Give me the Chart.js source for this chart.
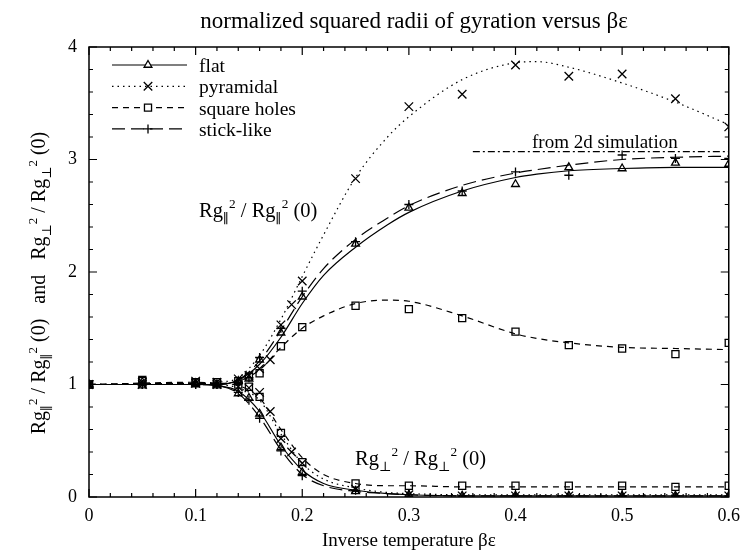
<!DOCTYPE html>
<html>
<head>
<meta charset="utf-8">
<script src="https://cdn.jsdelivr.net/npm/chart.js@4.4.1/dist/chart.umd.min.js"></script>
<style>
  html, body { margin: 0; padding: 0; background: #fff; }
  #wrap { width: 748px; height: 552px; }
</style>
</head>
<body>
<div id="wrap"><canvas id="canvas" width="748" height="552"></canvas></div>
<script>
const SERIF = '"Liberation Serif", "Times New Roman", "DejaVu Serif", serif'

// tick labels
const xTicks = [0, 0.1, 0.2, 0.3, 0.4, 0.5, 0.6]
const yTicks = [0, 1, 2, 3, 4]

const flatX = [0, 0.05, 0.1, 0.12, 0.14, 0.15, 0.16, 0.18, 0.2, 0.25, 0.3, 0.35, 0.4, 0.45, 0.5, 0.55, 0.6]
const flatPar = [1.0, 1.02, 1.01, 1.0, 1.03, 1.05, 1.22, 1.46, 1.78, 2.25, 2.57, 2.70, 2.78, 2.93, 2.92, 2.97, 2.96]
const flatPerp = [1.0, 0.99, 1.0, 0.99, 0.92, 0.88, 0.74, 0.44, 0.22, 0.05, 0.02, 0.01, 0.01, 0.01, 0.01, 0.01, 0.01]

const pyrX = [0, 0.05, 0.1, 0.12, 0.14, 0.15, 0.16, 0.17, 0.18, 0.19, 0.2, 0.25, 0.3, 0.35, 0.4, 0.45, 0.5, 0.55, 0.6]
const pyrPar = [1.0, 1.02, 1.03, 1.02, 1.05, 1.08, 1.14, 1.22, 1.53, 1.71, 1.92, 2.83, 3.47, 3.58, 3.84, 3.74, 3.76, 3.54, 3.29]
const pyrPerp = [1.0, 1.0, 1.01, 1.0, 0.98, 0.97, 0.93, 0.76, 0.52, 0.40, 0.30, 0.07, 0.02, 0.01, 0.01, 0.01, 0.01, 0.01, 0.01]

const sqX = [0, 0.05, 0.1, 0.12, 0.14, 0.15, 0.16, 0.18, 0.2, 0.25, 0.3, 0.35, 0.4, 0.45, 0.5, 0.55, 0.6]
const sqPar = [1.0, 1.04, 1.02, 1.02, 1.03, 1.07, 1.10, 1.34, 1.51, 1.70, 1.67, 1.59, 1.47, 1.35, 1.32, 1.27, 1.37]
const sqPerp = [1.0, 1.03, 1.02, 1.02, 1.0, 0.98, 0.89, 0.57, 0.31, 0.12, 0.10, 0.10, 0.10, 0.10, 0.10, 0.09, 0.10]

const stickX = [0, 0.05, 0.1, 0.12, 0.14, 0.15, 0.16, 0.18, 0.2, 0.25, 0.3, 0.35, 0.4, 0.45, 0.5, 0.55, 0.6]
const stickPar = [1.0, 1.0, 1.0, 1.0, 1.02, 1.06, 1.24, 1.50, 1.83, 2.27, 2.60, 2.72, 2.89, 2.86, 3.04, 3.01, 3.01]
const stickPerp = [1.0, 1.0, 1.0, 1.0, 0.93, 0.86, 0.70, 0.41, 0.19, 0.06, 0.02, 0.01, 0.01, 0.01, 0.01, 0.01, 0.01]

// fitted curves
const fitX = [0, 0.1, 0.12, 0.14, 0.16, 0.18, 0.2, 0.22, 0.25, 0.28, 0.3, 0.35, 0.4, 0.42, 0.45, 0.5, 0.55, 0.6]
const flatParFit = [1.0, 1.0, 1.0, 1.04, 1.18, 1.42, 1.72, 1.97, 2.22, 2.42, 2.53, 2.72, 2.84, 2.87, 2.90, 2.92, 2.93, 2.93]
const flatPerpFit = [1.0, 1.0, 0.99, 0.94, 0.76, 0.46, 0.24, 0.12, 0.06, 0.03, 0.02, 0.01, 0.01, 0.01, 0.01, 0.01, 0.01, 0.01]
const pyrParFit = [1.0, 1.01, 1.02, 1.06, 1.26, 1.58, 1.96, 2.33, 2.84, 3.20, 3.38, 3.71, 3.86, 3.87, 3.82, 3.68, 3.51, 3.31]
const pyrPerpFit = [1.0, 1.01, 1.0, 0.97, 0.86, 0.56, 0.30, 0.16, 0.08, 0.04, 0.03, 0.02, 0.02, 0.02, 0.02, 0.02, 0.02, 0.02]
const sqParFit = [1.0, 1.01, 1.01, 1.03, 1.13, 1.33, 1.50, 1.61, 1.72, 1.75, 1.74, 1.61, 1.45, 1.41, 1.37, 1.33, 1.32, 1.31]
const sqPerpFit = [1.0, 1.02, 1.01, 0.99, 0.88, 0.60, 0.35, 0.20, 0.12, 0.10, 0.10, 0.09, 0.09, 0.09, 0.09, 0.09, 0.09, 0.09]
const stickParFit = [1.0, 1.0, 1.0, 1.04, 1.21, 1.48, 1.78, 2.03, 2.29, 2.48, 2.59, 2.77, 2.88, 2.91, 2.95, 3.0, 3.02, 3.03]
const stickPerpFit = [1.0, 1.0, 0.99, 0.92, 0.71, 0.42, 0.20, 0.10, 0.05, 0.03, 0.02, 0.01, 0.01, 0.01, 0.01, 0.01, 0.01, 0.01]

// 2d simulation reference
const simX = [0.36, 0.6]
const simY = [3.07, 3.07]

const series = [
  { name: 'flat', x: flatX, par: flatPar, perp: flatPerp, parFit: flatParFit, perpFit: flatPerpFit,
    dash: [], point: 'triangle', radius: 4.5 },
  { name: 'pyramidal', x: pyrX, par: pyrPar, perp: pyrPerp, parFit: pyrParFit, perpFit: pyrPerpFit,
    dash: [1.5, 4], point: 'crossRot', radius: 6 },
  { name: 'square holes', x: sqX, par: sqPar, perp: sqPerp, parFit: sqParFit, perpFit: sqPerpFit,
    dash: [6, 5], point: 'rect', radius: 5 },
  { name: 'stick-like', x: stickX, par: stickPar, perp: stickPerp, parFit: stickParFit, perpFit: stickPerpFit,
    dash: [13, 6], point: 'cross', radius: 4.5 }
]

function pts(xs, ys) {
  return xs.map(function (x, i) { return { x: x, y: ys[i] } })
}

let datasets = []
series.forEach(function (s) {
  [s.parFit, s.perpFit].forEach(function (f) {
    datasets.push({
      type: 'line', data: pts(fitX, f), borderColor: '#000', borderWidth: 1.2,
      borderDash: s.dash, pointRadius: 0, cubicInterpolationMode: 'monotone', fill: false
    })
  })
  ;[s.par, s.perp].forEach(function (v) {
    datasets.push({
      type: 'scatter', data: pts(s.x, v), borderColor: '#000', backgroundColor: 'rgba(0,0,0,0)',
      pointStyle: s.point, pointRadius: s.radius, pointBorderWidth: 1.3, showLine: false
    })
  })
})
datasets.push({
  type: 'line', data: pts(simX, simY), borderColor: '#000', borderWidth: 1.1,
  borderDash: [7, 3, 2, 3], pointRadius: 0, fill: false
})

// rich text: parts [text, 'sub' | 'sup' | undefined]
function richWidth(ctx, parts, size) {
  let w = 0
  parts.forEach(function (p) {
    ctx.font = (p[1] ? size * 0.65 : size) + 'px ' + SERIF
    w += ctx.measureText(p[0]).width
  })
  return w
}
function drawRich(ctx, parts, x, y, size) {
  parts.forEach(function (p) {
    let dy = 0
    if (p[1] === 'sub') dy = size * 0.28
    if (p[1] === 'sup') dy = -size * 0.42
    ctx.font = (p[1] ? size * 0.65 : size) + 'px ' + SERIF
    ctx.fillText(p[0], x, y + dy)
    x += ctx.measureText(p[0]).width
  })
}

const parLabel = [['Rg'], ['\u2225', 'sub'], ['2', 'sup'], [' / Rg'], ['\u2225', 'sub'], ['2', 'sup'], [' (0)']]
const perpLabel = [['Rg'], ['\u22A5', 'sub'], ['2', 'sup'], [' / Rg'], ['\u22A5', 'sub'], ['2', 'sup'], [' (0)']]
const yLabel = parLabel.concat([['   and   ']], perpLabel)

const decor = {
  id: 'decor',
  afterDraw: function (chart) {
    const ctx = chart.ctx
    const xs = chart.scales.x
    const ys = chart.scales.y
    const a = chart.chartArea
    ctx.save()
    ctx.strokeStyle = '#000'
    ctx.fillStyle = '#000'
    ctx.lineWidth = 1.5
    ctx.strokeRect(a.left, a.top, a.right - a.left, a.bottom - a.top)
    ctx.lineWidth = 1.2
    ctx.beginPath()
    for (let v = 0; v <= 0.6001; v += 0.02) {
      const px = xs.getPixelForValue(v)
      const len = Math.abs(v * 10 - Math.round(v * 10)) < 1e-6 ? 8 : 4
      ctx.moveTo(px, a.bottom); ctx.lineTo(px, a.bottom - len)
      ctx.moveTo(px, a.top); ctx.lineTo(px, a.top + len)
    }
    for (let v = 0; v <= 4.0001; v += 0.2) {
      const py = ys.getPixelForValue(v)
      const len = Math.abs(v - Math.round(v)) < 1e-6 ? 8 : 4
      ctx.moveTo(a.left, py); ctx.lineTo(a.left + len, py)
      ctx.moveTo(a.right, py); ctx.lineTo(a.right - len, py)
    }
    ctx.stroke()

    // title
    ctx.font = '23px ' + SERIF
    ctx.textAlign = 'center'
    ctx.textBaseline = 'alphabetic'
    ctx.fillText('normalized squared radii of gyration versus \u03B2\u03B5', 414, 28)

    // legend
    ctx.textAlign = 'left'
    series.forEach(function (s, i) {
      const y = 65 + i * 21.3
      ctx.setLineDash(s.dash)
      ctx.lineWidth = 1.2
      ctx.beginPath(); ctx.moveTo(112, y); ctx.lineTo(187, y); ctx.stroke()
      ctx.setLineDash([])
      ctx.lineWidth = 1.3
      ctx.fillStyle = '#fff'
      Chart.helpers.drawPoint(ctx, { pointStyle: s.point, radius: s.radius, rotation: 0, borderWidth: 1.3 }, 148, y)
      ctx.fillStyle = '#000'
      ctx.font = '19.5px ' + SERIF
      ctx.textBaseline = 'middle'
      ctx.fillText(s.name, 199, y + 2)
    })

    // in-plot annotations
    ctx.textBaseline = 'alphabetic'
    ctx.font = '19px ' + SERIF
    ctx.fillText('from 2d simulation', 532, 148)
    drawRich(ctx, parLabel, 199, 217, 20.5)
    drawRich(ctx, perpLabel, 355, 465, 20.5)

    // y axis title
    ctx.translate(38, 283)
    ctx.rotate(-Math.PI / 2)
    const w = richWidth(ctx, yLabel, 20)
    drawRich(ctx, yLabel, -w / 2, 7, 20)
    ctx.restore()
  }
}

new Chart(document.getElementById('canvas'), {
  data: { datasets: datasets },
  options: {
    responsive: false,
    animation: false,
    layout: { padding: { top: 47, right: 12, left: 0, bottom: 0 } },
    plugins: { legend: { display: false }, tooltip: { enabled: false }, title: { display: false } },
    scales: {
      x: {
        type: 'linear', min: 0, max: 0.6,
        afterBuildTicks: function (sc) { sc.ticks = xTicks.map(function (v) { return { value: v } }) },
        afterFit: function (sc) { sc.height = 55 },
        grid: { display: false, drawTicks: false },
        border: { display: false },
        ticks: { color: '#000', padding: 8, font: { family: SERIF, size: 18 },
          callback: function (v) { return String(Math.round(v * 10) / 10) } },
        title: { display: true, text: 'Inverse temperature \u03B2\u03B5', color: '#000',
          font: { family: SERIF, size: 19 }, padding: { top: 0, bottom: 0 } }
      },
      y: {
        type: 'linear', min: 0, max: 4,
        afterBuildTicks: function (sc) { sc.ticks = yTicks.map(function (v) { return { value: v } }) },
        afterFit: function (sc) { sc.width = 89 },
        grid: { display: false, drawTicks: false },
        border: { display: false },
        ticks: { color: '#000', padding: 12, font: { family: SERIF, size: 18 } }
      }
    }
  },
  plugins: [decor]
})
</script>
</body>
</html>
